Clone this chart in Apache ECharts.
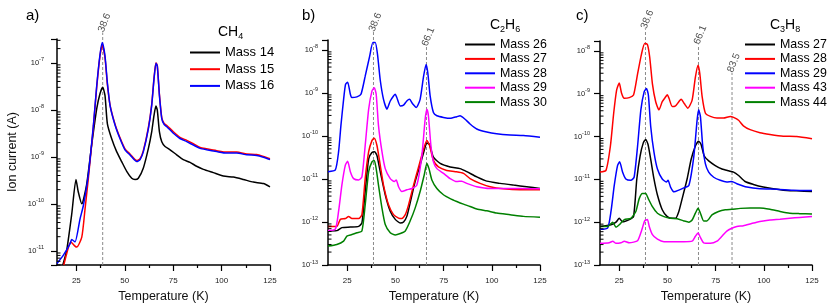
<!DOCTYPE html>
<html><head><meta charset="utf-8">
<script src="https://cdn.jsdelivr.net/npm/echarts@6/dist/echarts.min.js"></script>
<style>html,body{margin:0;padding:0;background:#fff}#c{width:830px;height:308px}</style>
</head><body><div id="c"></div>
<script>
const FONT = 'Liberation Sans, Arial, sans-serif';
const xTicks = [25, 50, 75, 100, 125];
const xMinorTicks = [37.5, 62.5, 87.5, 112.5];
const xRange = [15, 125];
const yRangeA = [5e-12, 3.2e-7];
const yRangeBC = [1e-13, 1.7e-8];

// Panel a: CH4
const aMass14 = [[18,5e-12],[20,1.02e-11],[22.6,6.0e-11],[24.8,3.3e-10],[26,1.78e-10],[27.8,1.0e-10],[30.3,2.57e-10],[32.9,1.78e-9],[35.5,1.05e-8],[37.2,2.2e-8],[38.6,3.0e-8],[39.8,2.0e-8],[41,5.1e-9],[43.2,2.45e-9],[45.8,1.29e-9],[48.4,7.9e-10],[51,4.9e-10],[53.6,3.5e-10],[55.3,3.3e-10],[57,3.5e-10],[59.6,5.8e-10],[62.2,1.51e-9],[63.9,3.4e-9],[65.1,7.6e-9],[66.1,1.2e-8],[66.8,9.8e-9],[67.9,3.4e-9],[69.1,2.1e-9],[70.8,1.66e-9],[73.4,1.41e-9],[76.8,1.1e-9],[80.2,8.7e-10],[83.7,7.6e-10],[87.1,6.3e-10],[90.6,5.4e-10],[95.7,4.6e-10],[100.9,3.9e-10],[106.1,3.7e-10],[111.2,3.3e-10],[116.4,2.9e-10],[121.6,2.7e-10],[125,2.3e-10]];
const aMass15 = [[18.5,5e-12],[20,8.7e-12],[22.1,1.55e-11],[24.3,1.26e-11],[25.2,1.2e-11],[27.8,1.95e-11],[29.5,7.9e-11],[31.2,3.5e-10],[33.8,4.4e-9],[35.5,3.0e-8],[37.2,1.38e-7],[38.4,2.4e-7],[39.8,1.26e-7],[41,3.5e-8],[42.4,1.26e-8],[45,4.9e-9],[47.5,2.57e-9],[50.1,1.48e-9],[52.7,1.15e-9],[56.2,8.3e-10],[57.9,9.1e-10],[59.6,1.35e-9],[62.2,4.2e-9],[63.9,1.29e-8],[65.1,4.7e-8],[66.1,1.0e-7],[66.8,8.7e-8],[67.9,2.1e-8],[69.1,6.8e-9],[70.3,5.1e-9],[71.6,4.7e-9],[75.1,3.4e-9],[78.5,2.6e-9],[82,2.24e-9],[85.4,1.9e-9],[88.9,1.58e-9],[92.3,1.48e-9],[97.5,1.35e-9],[102.6,1.26e-9],[107.8,1.26e-9],[113,1.15e-9],[118.1,1.12e-9],[121.6,1.02e-9],[125,9.1e-10]];
const aMass16 = [[15,5.4e-12],[18.3,8.1e-12],[21.7,1.41e-11],[22.6,1.74e-11],[24.3,1.55e-11],[26.9,4.8e-11],[28.6,9.1e-11],[31.2,4.2e-10],[33.8,4.7e-9],[35.5,3.2e-8],[37.2,1.48e-7],[38.4,2.7e-7],[39.8,1.38e-7],[41,3.8e-8],[42.4,1.23e-8],[45,4.7e-9],[47.5,2.45e-9],[50.1,1.41e-9],[52.7,1.1e-9],[56.2,7.9e-10],[57.9,8.7e-10],[59.6,1.29e-9],[62.2,3.98e-9],[63.9,1.23e-8],[65.1,4.47e-8],[66.1,9.8e-8],[66.8,8.5e-8],[67.9,2.0e-8],[69.1,6.5e-9],[70.3,4.9e-9],[71.6,4.4e-9],[75.1,3.16e-9],[78.5,2.45e-9],[82,2.1e-9],[85.4,1.78e-9],[88.9,1.51e-9],[92.3,1.41e-9],[97.5,1.29e-9],[102.6,1.2e-9],[107.8,1.2e-9],[113,1.1e-9],[118.1,1.07e-9],[121.6,9.8e-10],[125,8.7e-10]];

// Panel b: C2H6
const bMass26 = [[15,6.2e-13],[19.6,6.3e-13],[22.2,7.4e-13],[26.6,7.6e-13],[30.9,7.9e-13],[32.6,9.5e-13],[34.3,5.1e-12],[36.1,2.95e-11],[37.8,4.1e-11],[39.2,4.3e-11],[40.4,3.5e-11],[42.1,1.48e-11],[44.7,4.3e-12],[47.3,1.78e-12],[49.9,1.15e-12],[52.5,9.5e-13],[54.2,1.0e-12],[55.9,1.35e-12],[57.6,2.75e-12],[60.2,8.7e-12],[62.8,2.1e-11],[64.9,4.6e-11],[66.3,6.9e-11],[67.7,6.3e-11],[69.7,3.2e-11],[73.2,2.3e-11],[78.4,1.9e-11],[83.5,1.74e-11],[87,1.48e-11],[92.2,1.12e-11],[97.4,8.9e-12],[104.3,7.9e-12],[111.2,7.2e-12],[118.1,6.6e-12],[125,6.0e-12]];
const bMass27 = [[15,7.9e-13],[19.6,7.9e-13],[21.4,1.15e-12],[24,1.2e-12],[25.7,1.35e-12],[27.4,1.2e-12],[30.9,1.2e-12],[32.6,1.48e-12],[34.3,1.02e-11],[36.1,4.3e-11],[37.8,7.8e-11],[39,8.9e-11],[40.4,6.0e-11],[42.1,2.1e-11],[43.8,7.2e-12],[46.4,2.5e-12],[49,1.48e-12],[51.6,1.23e-12],[53.3,1.2e-12],[55.1,1.48e-12],[56.8,2.5e-12],[59.4,7.2e-12],[62,1.9e-11],[64.2,4.3e-11],[66.3,7.8e-11],[67.7,6.0e-11],[69.7,2.7e-11],[72.3,1.9e-11],[76.6,1.58e-11],[81,1.48e-11],[85.3,1.35e-11],[88.7,1.02e-11],[93.9,7.9e-12],[99.1,6.6e-12],[106,5.9e-12],[114.6,5.6e-12],[125,5.6e-12]];
const bMass28 = [[15,1.48e-11],[18.8,1.62e-11],[20.5,4.3e-11],[21.7,1.74e-10],[23.1,7.1e-10],[24.1,1.58e-9],[25.2,1.78e-9],[26.6,9.3e-10],[27.4,7.8e-10],[30,8.1e-10],[32.1,9.3e-10],[34.3,2.45e-9],[36.6,7.1e-9],[38.3,1.48e-8],[39.5,1.48e-8],[40.7,7.8e-9],[42.1,2.0e-9],[43.8,7.1e-10],[45.6,4.2e-10],[47.3,6.5e-10],[49,8.5e-10],[49.9,9.3e-10],[50.7,7.8e-10],[52.5,5.0e-10],[54.2,5.2e-10],[55.9,6.5e-10],[57.3,7.1e-10],[59,5.5e-10],[60.8,4.6e-10],[62.8,7.1e-10],[64.6,2.45e-9],[65.9,4.6e-9],[66.8,2.9e-9],[68,8.5e-10],[69.7,3.5e-10],[71.5,2.95e-10],[74.9,2.7e-10],[78.4,2.57e-10],[81.8,2.8e-10],[83.5,2.95e-10],[86.1,2.45e-10],[88.7,1.9e-10],[92.2,1.45e-10],[97.4,1.23e-10],[102.5,1.12e-10],[109.5,1.05e-10],[116.4,1.02e-10],[125,9.3e-11]];
const bMass29 = [[15,6.3e-13],[18.8,6.8e-13],[20.5,1.78e-12],[22.2,7.2e-12],[24,2.1e-11],[25.2,2.57e-11],[26.6,1.48e-11],[28.3,1.02e-11],[30.9,9.5e-12],[32.6,1.12e-11],[34.3,6.0e-11],[36.1,4.2e-10],[37.8,1.1e-9],[39,1.32e-9],[40,9.3e-10],[41.2,1.74e-10],[43,4.3e-11],[44.7,1.74e-11],[47.3,1.02e-11],[49.4,8.7e-12],[50.4,9.5e-12],[51.6,6.6e-12],[53.3,5.1e-12],[55.9,5.6e-12],[58.5,6.0e-12],[61.1,7.2e-12],[63.7,3.5e-11],[65.4,2.45e-10],[66.3,4.2e-10],[67.1,2.95e-10],[68.4,6.0e-11],[69.7,2.5e-11],[71.5,1.74e-11],[74.9,1.35e-11],[78.4,1.02e-11],[81.8,8.7e-12],[84.4,8.9e-12],[87,7.9e-12],[92.2,6.6e-12],[99.1,6.0e-12],[106,6.0e-12],[114.6,6.0e-12],[125,5.9e-12]];
const bMass30 = [[15,2.75e-13],[19.6,3.0e-13],[23.1,3.6e-13],[24.8,4.7e-13],[27.4,5.1e-13],[30,5.6e-13],[32.6,6.2e-13],[34.3,2.5e-12],[36.1,1.48e-11],[37.8,2.5e-11],[39,2.7e-11],[40,1.74e-11],[41.2,7.2e-12],[43,2.1e-12],[44.7,8.7e-13],[47.3,5.6e-13],[49.9,5.0e-13],[52.5,5.4e-13],[55.1,6.2e-13],[57.6,1.05e-12],[60.2,2.1e-12],[62.8,5.1e-12],[64.9,1.23e-11],[66.3,2.3e-11],[67.4,1.74e-11],[68.9,9.5e-12],[71.5,6.0e-12],[74.9,4.3e-12],[78.4,3.5e-12],[81.8,3.0e-12],[85.3,2.6e-12],[88.7,2.3e-12],[92.2,2.0e-12],[97.4,1.82e-12],[102.5,1.62e-12],[109.5,1.48e-12],[116.4,1.35e-12],[125,1.29e-12]];

// Panel c: C3H8
const cMass27 = [[15,7.9e-13],[20.7,8.7e-13],[23.3,1.0e-12],[25,1.23e-12],[26.7,1.02e-12],[30.2,1.15e-12],[32.4,1.35e-12],[34.1,1.02e-11],[35.8,3.5e-11],[37.5,7.2e-11],[38.7,8.5e-11],[39.9,6.6e-11],[41.3,2.95e-11],[43,1.02e-11],[44.8,4.3e-12],[47.3,1.95e-12],[49.9,1.35e-12],[52.5,1.23e-12],[54.2,1.23e-12],[55.9,1.78e-12],[57.6,3.5e-12],[60.2,1.02e-11],[62.3,2.95e-11],[64.5,6.0e-11],[66.2,7.8e-11],[67.4,6.6e-11],[69.1,3.5e-11],[71.4,2.7e-11],[74.8,2.1e-11],[78.3,1.74e-11],[81.7,1.58e-11],[84.3,1.48e-11],[86.9,1.23e-11],[90.3,8.9e-12],[94.6,7.6e-12],[99.7,6.6e-12],[104.9,6.0e-12],[110.1,5.6e-12],[117,5.4e-12],[125,5.2e-12]];
const cMass28 = [[15,1.48e-11],[18.1,1.62e-11],[20.4,6.0e-11],[22.1,3.5e-10],[23.6,1.2e-9],[25,1.78e-9],[26.2,1.02e-9],[27.6,7.8e-10],[30.2,8.1e-10],[32.4,9.3e-10],[34.5,2.9e-9],[36.5,8.3e-9],[38.2,1.48e-8],[39.6,1.41e-8],[40.8,7.1e-9],[42.2,1.7e-9],[43.9,6.5e-10],[45.6,4.2e-10],[47.3,6.5e-10],[49.1,8.5e-10],[49.9,9.5e-10],[50.8,7.8e-10],[52.5,5.0e-10],[54.2,5.2e-10],[55.9,6.5e-10],[57.1,7.4e-10],[58.8,5.8e-10],[60.6,4.6e-10],[62.8,7.1e-10],[64.5,2.45e-9],[65.9,4.6e-9],[66.8,2.9e-9],[68,8.5e-10],[69.7,3.5e-10],[72.3,2.95e-10],[75.7,2.7e-10],[79.1,2.7e-10],[82.6,2.95e-10],[84.3,2.8e-10],[86.9,2.4e-10],[89.4,1.78e-10],[92.9,1.45e-10],[98,1.23e-10],[103.2,1.12e-10],[110.1,1.02e-10],[117,1.0e-10],[125,8.9e-11]];
const cMass29 = [[15,6.8e-13],[19,7.4e-13],[20.7,1.78e-12],[22.4,7.2e-12],[24.1,2.1e-11],[25.2,2.57e-11],[26.7,1.48e-11],[28.4,1.02e-11],[31,9.5e-12],[32.7,1.12e-11],[34.5,6.0e-11],[36.2,4.2e-10],[37.9,1.1e-9],[39.1,1.32e-9],[40.1,9.3e-10],[41.3,1.74e-10],[43,4.3e-11],[44.8,1.74e-11],[47.3,1.02e-11],[49.4,8.7e-12],[50.3,9.5e-12],[51.6,6.6e-12],[53.4,5.1e-12],[55.9,5.6e-12],[58.5,6.3e-12],[61.1,7.2e-12],[63.7,3.5e-11],[65.4,2.45e-10],[66.2,4.2e-10],[67.1,2.95e-10],[68.3,6.0e-11],[69.7,2.3e-11],[71.4,1.48e-11],[74,1.12e-11],[77.4,9.5e-12],[80.8,8.7e-12],[83.4,8.9e-12],[86,7.9e-12],[91.2,6.6e-12],[98,6.0e-12],[106.6,5.9e-12],[115.2,5.6e-12],[125,5.5e-12]];
const cMass43 = [[15,3.2e-13],[19.8,3.3e-13],[21.6,3.6e-13],[23.3,3.2e-13],[25.9,3.3e-13],[27.6,3.6e-13],[30.2,3.3e-13],[34.5,3.7e-13],[36.5,6.2e-13],[38.2,1.07e-12],[39.6,1.15e-12],[40.5,8.1e-13],[42.2,5.1e-13],[44.8,4.0e-13],[48.2,3.5e-13],[53.4,3.5e-13],[58.5,3.5e-13],[62.8,3.6e-13],[64.5,4.7e-13],[65.9,5.6e-13],[67.1,4.4e-13],[68.8,3.3e-13],[72.3,3.2e-13],[75.7,3.6e-13],[78.3,4.7e-13],[80.8,6.2e-13],[83.4,7.2e-13],[86,7.9e-13],[89.4,8.3e-13],[92.9,9.1e-13],[96.3,1.0e-12],[99.7,1.07e-12],[103.2,1.12e-12],[108.4,1.17e-12],[113.5,1.23e-12],[118.6,1.29e-12],[125,1.35e-12]];
const cMass44 = [[15,7.9e-13],[19,7.9e-13],[21.6,1.0e-12],[23.3,7.6e-13],[25,8.7e-13],[27.6,1.15e-12],[31,1.23e-12],[33.6,1.78e-12],[35.3,3.5e-12],[37,4.7e-12],[38.7,4.7e-12],[40.1,3.5e-12],[42.2,2.3e-12],[44.8,1.62e-12],[48.2,1.35e-12],[51.6,1.23e-12],[55.1,1.2e-12],[58.5,1.07e-12],[61.1,1.0e-12],[62.8,1.12e-12],[64.5,1.62e-12],[65.9,2.1e-12],[67.1,1.62e-12],[68.8,1.07e-12],[70.5,1.07e-12],[73.1,1.48e-12],[76.5,1.78e-12],[80,1.95e-12],[83.4,2.0e-12],[87.8,2.1e-12],[92.9,2.15e-12],[98,2.15e-12],[103.2,2.0e-12],[108.4,1.78e-12],[113.5,1.62e-12],[118.6,1.58e-12],[125,1.55e-12]];

// Vertical marker lines: [temperature, top of dashed line]
const markersA = [[38.6, 4.4e-7]];
const markersB = [[38.6, 2.6e-8], [66.1, 1.2e-8]];
const markersC = [[38.6, 3.2e-8], [66.1, 1.4e-8], [83.5, 3.1e-9]];

const colors = {black:'#000000', red:'#ff0000', blue:'#0000ff', magenta:'#ff00ff', green:'#008000'};

const panels = [
  {key:'a', grid:{left:57, top:39, width:213, height:229}, yr:yRangeA, markers:markersA,
   series:[['Mass 14', aMass14, 'black'], ['Mass 15', aMass15, 'red'], ['Mass 16', aMass16, 'blue']],
   legend:{left:190, top:46, itemGap:3.7, fontSize:13},
   yName:'Ion current (A)'},
  {key:'b', grid:{left:328, top:40, width:212, height:228}, yr:yRangeBC, markers:markersB,
   series:[['Mass 26', bMass26, 'black'], ['Mass 27', bMass27, 'red'], ['Mass 28', bMass28, 'blue'], ['Mass 29', bMass29, 'magenta'], ['Mass 30', bMass30, 'green']],
   legend:{left:465, top:38.5, itemGap:2.4, fontSize:12.4}},
  {key:'c', grid:{left:600, top:41, width:212, height:227}, yr:yRangeBC, markers:markersC,
   series:[['Mass 27', cMass27, 'black'], ['Mass 28', cMass28, 'red'], ['Mass 29', cMass29, 'blue'], ['Mass 43', cMass43, 'magenta'], ['Mass 44', cMass44, 'green']],
   legend:{left:745, top:38.5, itemGap:2.4, fontSize:12.4}}
];

function minorLogTicks(r) {
  const out = [];
  const lo = Math.floor(Math.log10(r[0])), hi = Math.ceil(Math.log10(r[1]));
  for (let e = lo; e <= hi; e++) for (let m = 2; m <= 9; m++) {
    const v = m * Math.pow(10, e);
    if (v >= r[0] && v <= r[1]) out.push(v);
  }
  return out;
}

const grids = [], xAxes = [], yAxes = [], series = [], legends = [];
panels.forEach((p, g) => {
  grids.push(p.grid);
  xAxes.push({type:'value', gridIndex:g, min:xRange[0], max:xRange[1], position:'bottom',
    axisLine:{onZero:false, lineStyle:{color:'#000', width:1.5}},
    axisTick:{customValues:xTicks, length:6, lineStyle:{color:'#000', width:1.2}},
    axisLabel:{customValues:xTicks, fontSize:8, color:'#222', margin:12, fontFamily:FONT},
    splitLine:{show:false},
    name:'Temperature (K)', nameLocation:'middle', nameGap:25,
    nameTextStyle:{fontSize:12.5, fontFamily:FONT, color:'#111'}});
  xAxes.push({type:'value', gridIndex:g, min:xRange[0], max:xRange[1], position:'bottom',
    axisLine:{show:false, onZero:false},
    axisTick:{customValues:xMinorTicks, length:3, lineStyle:{color:'#000', width:1.2}},
    axisLabel:{show:false}, splitLine:{show:false}});
  yAxes.push({type:'log', logBase:10, gridIndex:g, min:p.yr[0], max:p.yr[1],
    axisLine:{show:true, onZero:false, lineStyle:{color:'#000', width:1.5}},
    axisTick:{length:6, lineStyle:{color:'#000', width:1.2}},
    axisLabel:{margin:g === 0 ? 13 : 10, color:'#222',
      formatter: v => { const l = Math.log10(v), e = Math.round(l); if (Math.abs(l - e) > 0.01) return ''; return '{b|10}{s|' + e + '}'; },
      rich:{b:{fontSize:7.5, lineHeight:12, fontFamily:FONT, color:'#222'}, s:{fontSize:5.5, lineHeight:7, verticalAlign:'top', fontFamily:FONT, color:'#222'}}},
    splitLine:{show:false},
    name: p.yName || '', nameLocation:'middle', nameGap:38,
    nameTextStyle:{fontSize:12.5, fontFamily:FONT, color:'#111'}});
  const xi = 2*g, yi = g;
  // minor log ticks
  series.push({type:'custom', xAxisIndex:xi, yAxisIndex:yi, silent:true, clip:false, z:5,
    data: minorLogTicks(p.yr).map(v => [xRange[0], v]),
    renderItem: (params, api) => { const pt = api.coord([api.value(0), api.value(1)]);
      return {type:'line', shape:{x1:pt[0], y1:pt[1], x2:pt[0]+3.5, y2:pt[1]}, style:{stroke:'#000', lineWidth:1}}; }});
  // dashed marker lines
  p.markers.forEach(m => {
    series.push({type:'line', xAxisIndex:xi, yAxisIndex:yi, silent:true, clip:false, symbol:'none', z:1,
      data:[[m[0], p.yr[0]], [m[0], m[1]]], lineStyle:{type:[3,2], color:'#8a8a8a', width:1}});
  });
  series.push({type:'scatter', xAxisIndex:xi, yAxisIndex:yi, silent:true, clip:false, symbolSize:1,
    itemStyle:{color:'rgba(0,0,0,0)'}, data:p.markers,
    label:{show:true, formatter: q => q.value[0].toFixed(1), position:'inside', align:'left', verticalAlign:'middle',
      rotate:68, fontSize:10, color:'#222', fontFamily:FONT, offset:[0,-2]}});
  const names = [];
  p.series.forEach(s => {
    const nm = p.key + ':' + s[0];
    names.push(nm);
    series.push({type:'line', name:nm, xAxisIndex:xi, yAxisIndex:yi, data:s[1], symbol:'none', smooth:0.2,
      lineStyle:{color:colors[s[2]], width:1.5}, itemStyle:{color:colors[s[2]]}, z:3});
  });
  legends.push({left:p.legend.left, top:p.legend.top, orient:'vertical', padding:0, itemWidth:30,
    itemHeight:2, icon:'rect', itemGap:p.legend.itemGap, data:names, selectedMode:false,
    formatter: n => n.split(':')[1], textStyle:{fontSize:p.legend.fontSize, fontFamily:FONT, color:'#000'}});
});

const subRich = {n:{fontSize:14, lineHeight:18, fontFamily:FONT, fontWeight:'normal', color:'#000'}, s:{fontSize:9, lineHeight:9, verticalAlign:'bottom', fontFamily:FONT, fontWeight:'normal', color:'#000'}};
const titleStyle = {fontSize:15, fontWeight:'normal', fontFamily:FONT, color:'#000'};
const titles = [
  {text:'a)', left:26, top:8, padding:0, textStyle:titleStyle},
  {text:'b)', left:302, top:8, padding:0, textStyle:titleStyle},
  {text:'c)', left:576, top:8, padding:0, textStyle:titleStyle},
  {text:'{n|CH}{s|4}', left:218, top:23, padding:0, textStyle:{fontWeight:'normal', rich:subRich}},
  {text:'{n|C}{s|2}{n|H}{s|6}', left:490, top:16, padding:0, textStyle:{fontWeight:'normal', rich:subRich}},
  {text:'{n|C}{s|3}{n|H}{s|8}', left:770, top:16, padding:0, textStyle:{fontWeight:'normal', rich:subRich}}
];

const chart = echarts.init(document.getElementById('c'), null, {renderer:'canvas'});
chart.setOption({animation:false, backgroundColor:'#fff', title:titles, grid:grids, xAxis:xAxes, yAxis:yAxes, legend:legends, series:series});
</script></body></html>
